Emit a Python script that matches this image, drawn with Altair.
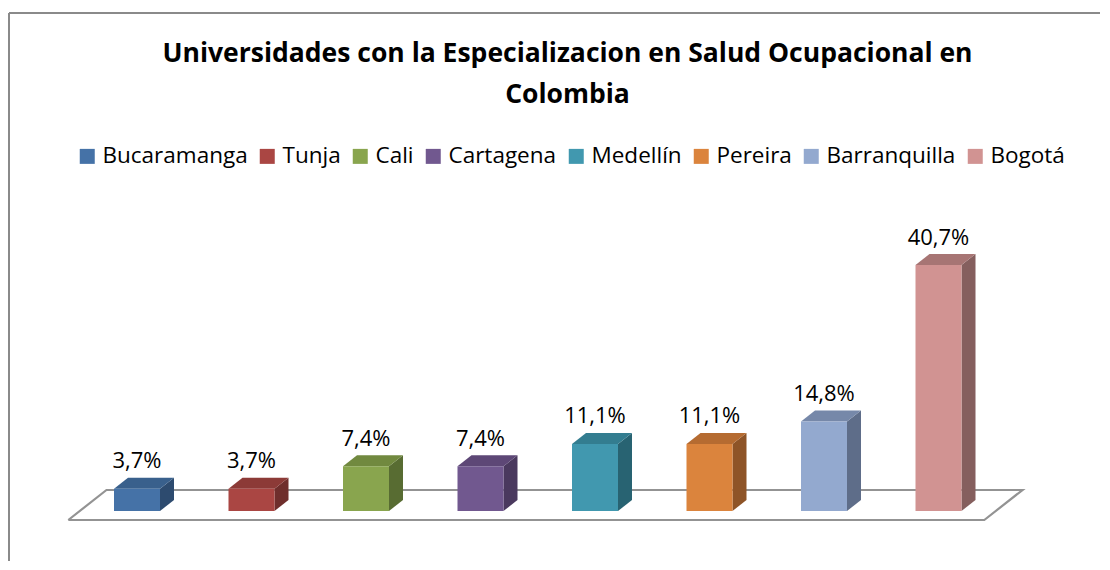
import altair as alt
import pandas as pd

# ---------------- data ----------------
cities = ["Bucaramanga", "Tunja", "Cali", "Cartagena", "Medellín",
          "Pereira", "Barranquilla", "Bogotá"]
values = [3.7, 3.7, 7.4, 7.4, 11.1, 11.1, 14.8, 40.7]
labels = ["3,7%", "3,7%", "7,4%", "7,4%", "11,1%", "11,1%", "14,8%", "40,7%"]

front_colors = ["#4572A7", "#AA4643", "#89A54E", "#71588F",
                "#4198AF", "#DB843D", "#93A9CF", "#D19392"]
top_colors = ["#39608C", "#8C3A37", "#71893F", "#5D4776",
              "#337D90", "#B56B31", "#7688A9", "#A77574"]
side_colors = ["#2D4B6F", "#6F2E2C", "#586C32", "#4A395E",
               "#286372", "#8E5427", "#5E6D89", "#855F5E"]

title_lines = ["Universidades con la Especializacion en Salud Ocupacional en",
               "Colombia"]

# ---------------- geometry (scale setup) ----------------
W, H = 1092, 553
STEP = 114.5          # px per category
PX_PER_PCT = 6.044    # px per percent
X0_PX = 129           # plot x of first category centre
BASE_PX = 503         # plot y of value 0
X_DOMAIN = [-X0_PX / STEP, (W - X0_PX) / STEP]
Y_DOMAIN = [-(H - BASE_PX) / PX_PER_PCT, BASE_PX / PX_PER_PCT]
HALF = 23 / STEP      # half bar width in x units
DX = 14 / STEP        # 3D depth (x units)
DY = 11 / PX_PER_PCT  # 3D depth (y units)

FONT = "Open Sans"

# ---------------- tables built from the lists ----------------
n = len(cities)
front_df = pd.DataFrame({
    "idx": list(range(n)), "city": cities, "value": values, "label": labels,
})
front_df["xl"] = front_df["idx"] - HALF
front_df["xr"] = front_df["idx"] + HALF
front_df["zero"] = 0.0
front_df["ytop"] = front_df["value"] + DY

top_rows, side_rows = [], []
for i, (c, v) in enumerate(zip(cities, values)):
    for x, lo, hi in [(i - HALF, v, v), (i - HALF + DX, v, v + DY),
                      (i + HALF, v, v + DY), (i + HALF + DX, v + DY, v + DY)]:
        top_rows.append({"city": c, "x": x, "lo": lo, "hi": hi, "fill": top_colors[i]})
    for x, lo, hi in [(i + HALF, 0.0, v), (i + HALF + DX, DY, v + DY)]:
        side_rows.append({"city": c, "x": x, "lo": lo, "hi": hi, "fill": side_colors[i]})
top_df = pd.DataFrame(top_rows)
side_df = pd.DataFrame(side_rows)

# floor parallelogram around the category band
fx, fy = -9 / 11 * DX, -9 / 11 * DY
bx, by = 21 / 11 * DX, 21 / 11 * DY
left, right = -0.5, n - 0.5
floor_df = pd.DataFrame({
    "k": [0, 1, 2, 3, 4],
    "x": [left + fx, right + fx, right + bx, left + bx, left + fx],
    "y": [fy, fy, by, by, fy],
})

xs = alt.Scale(domain=X_DOMAIN, nice=False, zero=False)
ys = alt.Scale(domain=Y_DOMAIN, nice=False, zero=False)


def X(f):
    return alt.X(f"{f}:Q", scale=xs, axis=None)


def Y(f):
    return alt.Y(f"{f}:Q", scale=ys, axis=None)


floor = alt.Chart(floor_df).mark_line(color="#939393", strokeWidth=2.2).encode(
    x=X("x"), y=Y("y"), order="k:Q")

side = alt.Chart(side_df).mark_area(orient="vertical").encode(
    x=X("x"), y=Y("hi"), y2="lo", detail="city:N",
    fill=alt.Fill("fill:N", scale=None))

top = alt.Chart(top_df).mark_area(orient="vertical").encode(
    x=X("x"), y=Y("hi"), y2="lo", detail="city:N",
    fill=alt.Fill("fill:N", scale=None))

front = alt.Chart(front_df).mark_rect().encode(
    x=X("xl"), x2="xr", y=Y("zero"), y2="value",
    color=alt.Color("city:N",
                    scale=alt.Scale(domain=cities, range=front_colors),
                    legend=alt.Legend(
                        title=None, orient="none", legendX=68, legendY=137,
                        direction="horizontal", columns=8,
                        symbolType="square", symbolSize=225,
                        symbolStrokeWidth=0, labelFont=FONT,
                        labelFontSize=22.5, labelColor="black",
                        labelOffset=4, columnPadding=8, padding=0,
                        labelLimit=400)))

text = alt.Chart(front_df).mark_text(
    font=FONT, fontSize=22, color="black", baseline="alphabetic", dy=-9.5
).encode(x=X("idx"), y=Y("ytop"), text="label:N")

one = pd.DataFrame({"k": [0]})
border_left = alt.Chart(one).mark_rule(color="#8A8A8A", strokeWidth=2).encode(
    x=alt.value(1), y=alt.value(5), y2=alt.value(H))
border_top = alt.Chart(one).mark_rule(color="#8A8A8A", strokeWidth=2).encode(
    x=alt.value(1), x2=alt.value(W), y=alt.value(5))

chart = alt.layer(
    border_left, border_top, floor, side, top, front, text
).properties(
    width=W, height=H,
    autosize=alt.AutoSizeParams(type="none"),
    padding={"left": 0, "top": 0, "right": 0, "bottom": 0},
    title=alt.Title(text=title_lines, font=FONT, fontSize=26.5,
                    fontWeight="bold", color="black", anchor="middle",
                    orient="top", offset=0, dx=13.5, dy=121,
                    baseline="alphabetic", lineHeight=41, frame="group"),
    background="white",
).configure_view(stroke=None)

chart.save("out.html", embed_options={"renderer": "svg", "actions": False})
